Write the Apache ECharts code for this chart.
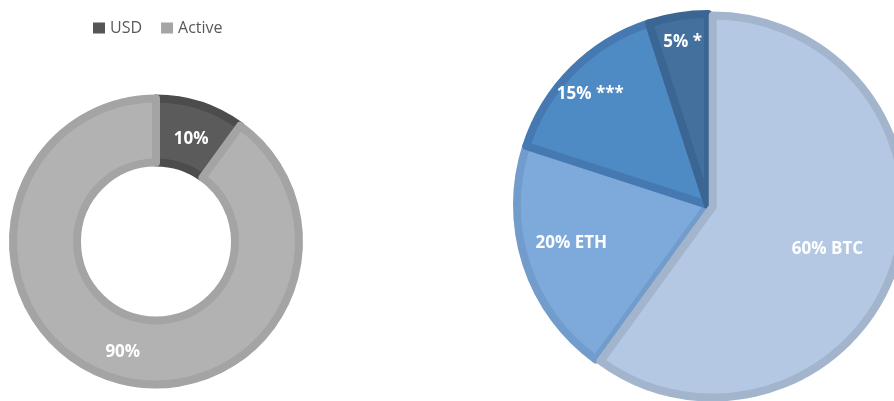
<!DOCTYPE html>
<html><head><meta charset="utf-8">
<script src="https://cdn.jsdelivr.net/npm/echarts@6/dist/echarts.min.js"></script>
<style>html,body{margin:0;padding:0;background:#fff}#c{width:894px;height:401px}</style>
</head><body><div id="c"></div>
<script>
// data
const donutNames = ['USD', 'Active'];
const donutValues = [10, 90];
const pieNames = ['BTC', 'ETH', '***', '*'];
const pieValues = [60, 20, 15, 5];

// styles
const donutColors = ['#5b5b5b', '#b2b2b2'];
const donutBorders = ['#4c4c4c', '#a4a4a4'];
const legendColors = ['#555555', '#a5a5a5'];
const pieColors = ['#b4c8e4', '#7eaadb', '#4e8ac4', '#43709d'];
const pieBorders = ['#a2b5cd', '#729ccb', '#4679b2', '#3b6592'];
const donutLabelShift = [[0, 6], [2, 2]];
const pieLabelShift = [[21, 12], [-43, 8], [-48, -41], [-10, -66]];
const FONT = '"Open Sans", "Liberation Sans", sans-serif';

const chart = echarts.init(document.getElementById('c'), null, { renderer: 'canvas' });
chart.setOption({
  animation: false,
  backgroundColor: '#ffffff',
  legend: {
    left: 88, top: 15,
    itemWidth: 12, itemHeight: 11, itemGap: 19,
    icon: 'rect',
    textStyle: { fontFamily: FONT, fontSize: 16, color: '#595959' },
    data: donutNames.map((n, i) => ({ name: n, itemStyle: { color: legendColors[i], borderWidth: 0 } }))
  },
  series: [
    {
      type: 'pie',
      center: [156, 241.5],
      radius: [79, 143],
      startAngle: 90,
      clockwise: true,
      silent: true,
      label: {
        show: true, position: 'inside',
        formatter: p => p.value + '%',
        color: '#ffffff', fontFamily: FONT, fontWeight: 'bold', fontSize: 17
      },
      labelLayout: p => ({ dx: donutLabelShift[p.dataIndex][0], dy: donutLabelShift[p.dataIndex][1] }),
      labelLine: { show: false },
      data: donutNames.map((n, i) => ({
        name: n, value: donutValues[i],
        itemStyle: { color: donutColors[i], borderColor: donutBorders[i], borderWidth: 8 }
      }))
    },
    {
      type: 'pie',
      center: [708, 205],
      radius: [0, 191],
      startAngle: 90,
      clockwise: true,
      selectedMode: 'single',
      selectedOffset: 5,
      silent: true,
      label: {
        show: true, position: 'inside',
        formatter: p => p.value + '% ' + p.name,
        color: '#ffffff', fontFamily: FONT, fontWeight: 'bold', fontSize: 17
      },
      labelLayout: p => ({ dx: pieLabelShift[p.dataIndex][0], dy: pieLabelShift[p.dataIndex][1] }),
      labelLine: { show: false },
      data: pieNames.map((n, i) => ({
        name: n, value: pieValues[i], selected: i === 0,
        itemStyle: { color: pieColors[i], borderColor: pieBorders[i], borderWidth: 8 }
      }))
    }
  ]
});
</script>
</body></html>
